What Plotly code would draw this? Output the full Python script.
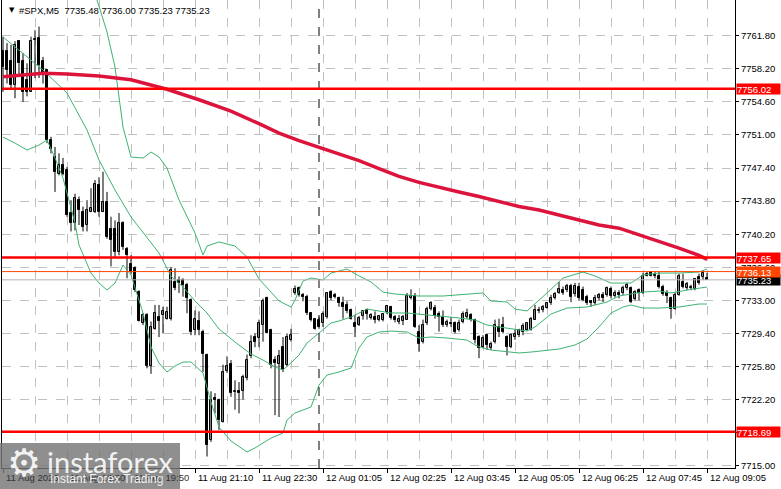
import plotly.graph_objects as go

# 5-minute bars (bar 0 = 11 Aug 17:10)
opens = [
    7760.1, 7760.1, 7759.0, 7756.4, 7761.2, 7759.0, 7757.0, 7755.7, 7761.3, 7761.5,
    7759.0, 7758.1, 7750.4, 7748.6, 7746.8, 7747.7, 7747.2, 7742.5, 7741.4, 7743.9,
    7742.6, 7741.2, 7742.6, 7742.6, 7745.6, 7742.6, 7743.7, 7740.8, 7740.8, 7738.3,
    7741.4, 7738.6, 7737.0, 7736.5, 7733.9, 7730.5, 7731.4, 7725.8, 7729.9, 7731.2,
    7731.4, 7731.0, 7731.0, 7735.0, 7735.2, 7735.2, 7734.7, 7733.0, 7729.8, 7730.7,
    7729.6, 7727.1, 7717.8, 7722.4, 7722.2, 7719.8, 7725.3, 7726.1, 7723.0, 7723.1,
    7723.1, 7724.5, 7726.9, 7729.0, 7728.9, 7730.3, 7733.2, 7729.8, 7726.5, 7726.1,
    7727.9, 7726.0, 7728.7, 7733.8, 7734.3, 7733.6, 7733.4, 7731.6, 7731.0, 7730.9,
    7730.5, 7731.2, 7733.9, 7733.6, 7733.3, 7732.7, 7732.5, 7732.0, 7730.5, 7730.3,
    7731.3, 7731.9, 7731.1, 7731.2, 7730.9, 7730.9, 7731.7, 7732.3, 7731.2, 7730.6,
    7730.7, 7730.9, 7733.2, 7733.5, 7729.6, 7728.5, 7730.5, 7732.1, 7732.2, 7731.5,
    7731.2, 7730.3, 7730.5, 7730.5, 7729.8, 7730.6, 7731.2, 7731.4, 7730.9, 7729.0,
    7727.9, 7729.2, 7727.8, 7728.5, 7730.1, 7730.3, 7729.0, 7727.9, 7729.0, 7729.2,
    7729.6, 7729.8, 7729.8, 7730.9, 7731.8, 7731.9, 7732.2, 7732.7, 7733.3, 7733.8,
    7734.1, 7734.1, 7734.6, 7733.7, 7734.5, 7734.1, 7733.4, 7732.9, 7732.7, 7733.2,
    7733.6, 7733.6, 7734.2, 7733.5, 7733.8, 7733.8, 7734.3, 7734.3, 7733.1, 7734.1,
    7733.8, 7735.6, 7736.1, 7735.6, 7735.6, 7734.5, 7733.8, 7733.2, 7732.1, 7733.6,
    7735.0, 7734.3, 7734.3, 7734.2, 7735.5, 7735.5, 7735.48,
]
highs = [
    7761.7, 7761.0, 7760.8, 7761.2, 7761.3, 7759.9, 7758.8, 7761.7, 7762.4, 7762.8,
    7759.5, 7758.1, 7750.8, 7749.7, 7749.0, 7748.5, 7747.5, 7743.9, 7744.6, 7744.3,
    7743.2, 7743.9, 7745.2, 7746.1, 7746.4, 7747.0, 7744.8, 7742.1, 7741.7, 7742.5,
    7741.6, 7738.8, 7737.9, 7736.7, 7734.1, 7731.6, 7731.6, 7730.7, 7732.5, 7732.5,
    7732.3, 7732.3, 7736.6, 7736.5, 7735.6, 7735.4, 7734.9, 7733.2, 7731.9, 7731.8,
    7729.8, 7727.2, 7723.1, 7722.9, 7722.3, 7726.0, 7726.9, 7726.5, 7724.3, 7724.1,
    7724.9, 7727.1, 7729.2, 7729.4, 7730.9, 7733.2, 7733.4, 7729.9, 7726.9, 7727.6,
    7729.0, 7729.4, 7729.9, 7734.6, 7734.5, 7733.8, 7733.6, 7731.7, 7731.0, 7731.2,
    7731.8, 7733.9, 7734.1, 7733.8, 7733.4, 7733.4, 7732.9, 7732.1, 7731.4, 7731.3,
    7731.9, 7732.1, 7731.6, 7731.8, 7731.4, 7731.6, 7732.5, 7732.4, 7731.4, 7731.4,
    7731.4, 7733.8, 7734.2, 7733.8, 7730.3, 7730.9, 7732.3, 7732.9, 7732.5, 7731.8,
    7731.9, 7730.9, 7731.2, 7730.7, 7730.9, 7731.8, 7732.1, 7731.6, 7731.0, 7729.2,
    7729.2, 7729.4, 7728.5, 7730.9, 7731.0, 7731.2, 7729.2, 7729.4, 7729.8, 7729.9,
    7730.5, 7730.6, 7731.2, 7732.5, 7732.3, 7732.5, 7732.8, 7733.6, 7733.9, 7735.0,
    7734.5, 7734.8, 7734.8, 7734.9, 7734.9, 7734.5, 7733.6, 7733.0, 7733.6, 7733.8,
    7733.9, 7734.5, 7734.5, 7734.1, 7734.1, 7734.6, 7734.9, 7734.5, 7734.1, 7734.3,
    7736.0, 7736.1, 7736.1, 7736.1, 7736.1, 7734.7, 7734.1, 7733.4, 7733.8, 7735.9,
    7735.9, 7735.0, 7734.7, 7735.4, 7735.9, 7736.3, 7736.00,
]
lows = [
    7755.7, 7756.6, 7755.9, 7755.0, 7757.3, 7754.6, 7755.2, 7755.7, 7757.2, 7757.2,
    7756.6, 7750.1, 7749.0, 7744.8, 7746.6, 7746.6, 7742.1, 7740.5, 7740.6, 7741.2,
    7740.5, 7740.5, 7742.6, 7742.5, 7742.1, 7742.6, 7739.7, 7736.7, 7737.7, 7737.9,
    7738.5, 7735.4, 7735.9, 7733.9, 7730.7, 7730.3, 7725.6, 7725.0, 7729.8, 7729.0,
    7729.4, 7730.9, 7730.8, 7734.1, 7733.8, 7733.4, 7731.6, 7729.2, 7729.2, 7729.2,
    7725.2, 7716.0, 7717.6, 7720.7, 7718.9, 7719.7, 7725.1, 7722.5, 7721.1, 7720.7,
    7722.2, 7724.3, 7726.7, 7727.9, 7727.9, 7728.5, 7729.4, 7725.6, 7720.5, 7720.3,
    7725.2, 7725.8, 7728.5, 7733.6, 7733.4, 7732.9, 7731.4, 7730.7, 7729.8, 7729.9,
    7730.1, 7731.0, 7733.0, 7733.2, 7732.3, 7731.0, 7731.6, 7730.9, 7729.0, 7730.2,
    7730.9, 7730.9, 7730.9, 7730.5, 7730.7, 7730.7, 7731.5, 7730.9, 7730.6, 7730.4,
    7730.3, 7730.9, 7733.1, 7730.0, 7727.4, 7728.3, 7730.3, 7731.9, 7731.0, 7729.6,
    7730.1, 7730.1, 7730.1, 7729.4, 7729.6, 7730.5, 7731.0, 7730.7, 7728.3, 7726.7,
    7727.8, 7727.6, 7727.6, 7728.3, 7729.0, 7729.4, 7727.0, 7727.8, 7728.7, 7729.0,
    7729.2, 7729.7, 7729.7, 7730.9, 7731.6, 7731.7, 7732.1, 7732.5, 7733.1, 7733.7,
    7733.6, 7733.9, 7732.8, 7733.4, 7733.0, 7732.9, 7732.5, 7732.3, 7732.5, 7733.0,
    7732.8, 7733.4, 7733.2, 7733.3, 7733.2, 7733.6, 7734.1, 7732.7, 7733.0, 7733.0,
    7733.7, 7735.6, 7735.6, 7735.4, 7734.3, 7733.5, 7732.7, 7731.0, 7732.0, 7733.5,
    7734.3, 7734.1, 7734.1, 7734.1, 7734.7, 7735.2, 7735.23,
]
closes = [
    7758.4, 7758.1, 7756.4, 7760.8, 7758.8, 7755.7, 7755.7, 7761.2, 7761.4, 7758.6,
    7757.5, 7750.4, 7749.5, 7747.0, 7747.7, 7746.8, 7742.3, 7741.4, 7744.1, 7742.8,
    7741.0, 7742.8, 7743.0, 7745.7, 7742.6, 7743.7, 7739.9, 7739.6, 7738.3, 7741.4,
    7738.8, 7737.9, 7736.1, 7734.1, 7730.7, 7731.4, 7725.8, 7730.1, 7731.6, 7730.7,
    7731.8, 7731.7, 7736.3, 7734.3, 7734.9, 7734.7, 7733.2, 7729.6, 7731.0, 7729.8,
    7727.2, 7717.3, 7722.2, 7722.2, 7720.0, 7725.2, 7725.9, 7722.9, 7723.1, 7722.9,
    7724.7, 7726.5, 7728.5, 7728.5, 7730.5, 7732.9, 7729.4, 7726.0, 7726.2, 7726.9,
    7725.4, 7729.0, 7729.2, 7734.2, 7733.6, 7733.4, 7731.6, 7730.9, 7729.9, 7730.1,
    7731.5, 7733.8, 7733.2, 7733.4, 7732.7, 7732.3, 7731.8, 7731.0, 7730.1, 7731.1,
    7731.8, 7731.5, 7731.4, 7730.9, 7731.3, 7731.5, 7732.4, 7731.1, 7730.9, 7731.0,
    7731.2, 7733.5, 7733.5, 7730.1, 7728.3, 7730.3, 7732.1, 7732.7, 7731.3, 7731.2,
    7730.3, 7730.6, 7730.4, 7729.6, 7730.5, 7731.5, 7731.6, 7730.9, 7728.7, 7727.8,
    7728.9, 7728.1, 7728.3, 7730.3, 7729.6, 7729.6, 7727.9, 7729.2, 7729.3, 7729.8,
    7730.2, 7730.5, 7731.0, 7732.0, 7732.0, 7732.3, 7732.7, 7733.3, 7733.7, 7734.2,
    7733.8, 7734.6, 7733.4, 7734.6, 7733.2, 7733.0, 7732.7, 7732.7, 7733.3, 7733.6,
    7733.3, 7734.3, 7733.5, 7733.8, 7733.6, 7734.3, 7734.7, 7732.8, 7733.9, 7733.8,
    7735.6, 7735.9, 7735.7, 7735.8, 7734.5, 7733.7, 7733.5, 7732.1, 7733.6, 7735.6,
    7734.5, 7734.8, 7734.5, 7735.3, 7734.9, 7736.0, 7735.23,
]

# moving average (thick crimson line), sampled at these bars
ma_bars = [0, 10, 16, 24, 32, 41, 49, 57, 64, 69, 74, 79, 84, 89, 94, 99, 104, 109,
           114, 119, 124, 129, 134, 139, 144, 149, 154, 159, 164, 169, 174, 176]
ma_vals = [7757.34, 7757.71, 7757.63, 7757.41, 7757.00, 7755.97, 7754.83, 7753.60,
           7752.23, 7751.21, 7750.39, 7749.69, 7748.96, 7748.20, 7747.34, 7746.50,
           7745.84, 7745.28, 7744.79, 7744.30, 7743.75, 7743.21, 7742.83, 7742.31,
           7741.76, 7741.20, 7740.85, 7740.14, 7739.40, 7738.69, 7737.90, 7737.46]

# Bollinger bands (green), sampled at these bars
bb_up_bars = [22, 24, 26, 28, 30, 32, 35, 37, 39, 41, 44, 48, 50, 51, 54, 58, 61, 64,
              67, 69, 72, 73, 75, 77, 80, 82, 86, 89, 92, 95, 98, 104, 110, 117, 120,
              122, 126, 128, 131, 136, 140, 145, 148, 152, 157, 160, 164, 169, 174, 176]
bb_up_vals = [7767.6, 7765.03, 7762.20, 7758.39, 7751.86, 7748.60, 7748.49, 7749.14,
              7748.60, 7747.40, 7743.92, 7740.33, 7737.93, 7738.91, 7739.35, 7738.91,
              7737.71, 7735.32, 7733.90, 7732.93, 7732.27, 7733.03, 7735.10, 7735.43,
              7735.21, 7735.97, 7736.41, 7735.65, 7735.00, 7733.90, 7733.69, 7733.47,
              7733.47, 7733.69, 7733.80, 7732.93, 7732.82, 7732.05, 7731.84, 7733.80,
              7735.43, 7736.08, 7735.65, 7734.88, 7734.88, 7735.76, 7735.97, 7735.97,
              7736.08, 7736.41]
bb_mid_bars = [0, 10, 16, 21, 24, 28, 32, 36, 39, 42, 45, 48, 51, 54, 58, 62, 65, 68,
               70, 72, 74, 76, 79, 82, 84, 87, 91, 94, 97, 101, 104, 108, 111, 114,
               118, 121, 124, 128, 131, 133, 137, 141, 146, 151, 154, 157, 160, 164,
               167, 171, 174, 176]
bb_mid_vals = [7761.66, 7758.07, 7755.56, 7751.54, 7748.27, 7745.01, 7742.07, 7739.89,
               7738.15, 7735.65, 7734.45, 7732.93, 7731.62, 7729.88, 7728.46, 7727.16,
               7726.50, 7725.74, 7725.42, 7726.18, 7727.05, 7728.35, 7729.44, 7730.53,
               7730.75, 7731.18, 7732.05, 7731.84, 7731.62, 7731.62, 7731.51, 7731.29,
               7731.18, 7731.08, 7730.86, 7730.31, 7730.10, 7729.88, 7729.66, 7730.10,
               7731.51, 7732.16, 7732.27, 7732.82, 7733.47, 7733.69, 7733.90, 7734.01,
               7733.80, 7734.12, 7734.34, 7734.45]
bb_low_bars = [0, 3, 6, 9, 11, 13, 15, 17, 18, 19, 22, 24, 26, 28, 30, 32, 34, 35, 37,
               39, 41, 43, 45, 47, 50, 52, 54, 57, 61, 63, 67, 70, 71, 73, 77, 79, 81,
               84, 87, 88, 89, 91, 94, 97, 101, 104, 107, 111, 116, 118, 120, 122, 126,
               129, 132, 139, 143, 146, 149, 152, 155, 157, 160, 164, 169, 174, 176]
bb_low_vals = [7750.77, 7750.12, 7749.36, 7749.90, 7750.45, 7748.49, 7746.31, 7742.83,
               7741.41, 7739.02, 7735.97, 7734.88, 7734.12, 7734.88, 7736.84, 7735.76,
               7733.03, 7731.62, 7727.92, 7726.18, 7725.20, 7725.85, 7726.29, 7726.29,
               7725.09, 7721.93, 7719.21, 7717.69, 7716.49, 7716.93, 7718.01, 7718.56,
               7719.97, 7720.74, 7721.39, 7723.78, 7724.87, 7725.20, 7725.63, 7726.72,
               7727.81, 7729.01, 7729.55, 7729.66, 7729.55, 7728.90, 7729.01, 7728.90,
               7728.68, 7728.14, 7727.81, 7727.59, 7727.37, 7727.27, 7727.37, 7727.70,
               7728.14, 7728.79, 7730.10, 7731.62, 7732.27, 7732.49, 7732.16, 7732.16,
               7732.27, 7732.60, 7732.60]

time_labels = ['11 Aug 2026', '11 Aug 18:30', '11 Aug 19:50', '11 Aug 21:10', '11 Aug 22:30',
               '12 Aug 01:05', '12 Aug 02:25', '12 Aug 03:45', '12 Aug 05:05', '12 Aug 06:25',
               '12 Aug 07:45', '12 Aug 09:05']
price_ticks = [7715.00, 7718.60, 7722.20, 7725.80, 7729.40, 7733.00, 7736.60,
               7740.20, 7743.80, 7747.40, 7751.00, 7754.60, 7758.20, 7761.80]
price_tick_labels = ['7715.00', '7718.60', '7722.20', '7725.80', '7729.40', '7733.00', '7736.60',
                     '7740.20', '7743.80', '7747.40', '7751.00', '7754.60', '7758.20', '7761.80']

levels = [7756.02, 7737.65, 7718.69]
ask_line = 7736.13
bid_line = 7735.23
day_break_bar = 79

W, H = 781, 489
PL, PR, PT, PB = 2, 735, 0, 468          # plot area in pixels
FONT = 'Liberation Sans, Arial, sans-serif'
GRID = '#c0c0c0'
BAND = '#3cb371'


def px_x(x):
    return (x - PL) / (PR - PL)


def px_y(y):
    return (PB - y) / (PB - PT)


bars = list(range(len(opens)))
up = [i for i in bars if closes[i] >= opens[i]]
dn = [i for i in bars if closes[i] < opens[i]]

# wicks as vertical segments, bodies as floating bars (MT4 look)
wick_x, wick_y = [], []
for i in bars:
    wick_x += [i, i, None]
    wick_y += [lows[i], highs[i], None]

fig = go.Figure()
fig.add_trace(go.Scatter(x=wick_x, y=wick_y, mode='lines', line=dict(color='black', width=1),
                         hoverinfo='skip', showlegend=False))
for idx, fill in [(up, 'white'), (dn, 'black')]:
    fig.add_trace(go.Bar(
        x=idx,
        base=[min(opens[i], closes[i]) for i in idx],
        y=[max(abs(closes[i] - opens[i]), 0.06) for i in idx],
        width=0.5,
        marker=dict(color=fill, line=dict(color='black', width=1)),
        hoverinfo='skip', showlegend=False,
    ))
for bx, by in [(bb_up_bars, bb_up_vals), (bb_mid_bars, bb_mid_vals), (bb_low_bars, bb_low_vals)]:
    fig.add_trace(go.Scatter(x=bx, y=by, mode='lines', line=dict(color=BAND, width=1),
                             hoverinfo='skip', showlegend=False))
fig.add_trace(go.Scatter(x=ma_bars, y=ma_vals, mode='lines', line=dict(color='#dc143c', width=3.5),
                         hoverinfo='skip', showlegend=False))

shapes = []
shapes.append(dict(type='line', xref='x', yref='paper', x0=day_break_bar, x1=day_break_bar, y0=0, y1=1,
                   line=dict(color='black', width=1, dash='dash')))
shapes.append(dict(type='line', xref='paper', yref='y', x0=0, x1=1, y0=bid_line, y1=bid_line,
                   line=dict(color='#b4b4b4', width=1)))
shapes.append(dict(type='line', xref='paper', yref='y', x0=0, x1=1, y0=ask_line, y1=ask_line,
                   line=dict(color='#ff4500', width=1)))
for lv in levels:
    shapes.append(dict(type='line', xref='paper', yref='y', x0=0, x1=1, y0=lv, y1=lv,
                       line=dict(color='#ff0000', width=2.5)))
# watermark box
shapes.append(dict(type='rect', xref='paper', yref='paper', layer='above',
                   x0=px_x(0), x1=px_x(180), y0=px_y(443), y1=px_y(489),
                   fillcolor='rgba(118,118,118,0.82)', line=dict(width=0)))

annotations = []
for lv, bg in [(levels[0], '#ff0000'), (levels[1], '#ff0000'), (bid_line, 'black'),
               (ask_line, '#ff4500'), (levels[2], '#ff0000')]:
    annotations.append(dict(xref='paper', yref='y', x=1, y=lv, xanchor='left', yanchor='middle',
                            xshift=1, text=f'{lv:.2f}', showarrow=False, bgcolor=bg, width=43,
                            height=10, align='left', valign='middle', borderpad=0,
                            font=dict(family=FONT, size=9.5, color='white')))
for k, lab in enumerate(time_labels):
    shade = '#333333' if k < 3 else 'black'
    annotations.append(dict(xref='x', yref='paper', x=16 * k, y=px_y(478), xanchor='left',
                            yanchor='middle', xshift=1, text=lab, showarrow=False,
                            font=dict(family=FONT, size=9.5, color=shade)))
annotations.append(dict(xref='paper', yref='paper', x=px_x(7), y=px_y(10), xanchor='left',
                        yanchor='middle', text='▼', showarrow=False,
                        font=dict(family='DejaVu Sans', size=7, color='black')))
annotations.append(dict(xref='paper', yref='paper', x=px_x(17), y=px_y(10), xanchor='left',
                        yanchor='middle', showarrow=False,
                        text=f'#SPX,M5  {opens[-1]:.2f} {highs[-1]:.2f} {lows[-1]:.2f} {closes[-1]:.2f}',
                        font=dict(family=FONT, size=9.5, color='black')))
annotations.append(dict(xref='paper', yref='paper', x=px_x(24), y=px_y(463), xanchor='center',
                        yanchor='middle', text='⚙', showarrow=False,
                        font=dict(family='DejaVu Sans', size=38, color='rgba(255,255,255,0.9)')))
annotations.append(dict(xref='paper', yref='paper', x=px_x(45), y=px_y(461), xanchor='left',
                        yanchor='middle', text='instaforex', showarrow=False,
                        font=dict(family='Lato', size=29, color='rgba(255,255,255,0.9)')))
annotations.append(dict(xref='paper', yref='paper', x=px_x(48), y=px_y(479), xanchor='left',
                        yanchor='middle', text='Instant Forex Trading', showarrow=False,
                        font=dict(family=FONT, size=12, color='rgba(255,255,255,0.9)')))

fig.update_layout(
    width=W, height=H,
    margin=dict(l=PL, r=W - PR, t=PT, b=H - PB, autoexpand=False),
    paper_bgcolor='white', plot_bgcolor='white',
    showlegend=False, barmode='overlay', bargap=0,
    shapes=shapes,
    annotations=annotations,
    font=dict(family=FONT, size=9.5, color='black'),
)
fig.update_xaxes(
    range=[-0.25, 183.0], automargin=False,
    tickmode='array', tickvals=list(range(0, len(opens), 16)), showticklabels=False,
    ticks='outside', ticklen=4, tickcolor='black',
    showgrid=True, gridcolor=GRID, griddash='dash', gridwidth=1,
    minor=dict(tickmode='array', tickvals=list(range(8, len(opens), 16)), showgrid=True,
               gridcolor=GRID, griddash='dash', ticks=''),
    showline=True, linecolor='black', linewidth=1, zeroline=False,
)
fig.update_yaxes(
    range=[7714.75, 7765.69], side='right', automargin=False,
    tickmode='array', tickvals=price_ticks, ticktext=price_tick_labels,
    ticks='outside', ticklen=3, tickcolor='black',
    showgrid=True, gridcolor=GRID, griddash='dash', gridwidth=1,
    showline=True, linecolor='black', linewidth=1, mirror=True, zeroline=False,
    tickfont=dict(family=FONT, size=9.5, color='black'),
)

# drop the browser's default page margin so the figure sits at the window's corner
fig.write_html('out.html', config={'displayModeBar': False},
               post_script="document.body.style.margin='0px';document.body.style.overflow='hidden';")
